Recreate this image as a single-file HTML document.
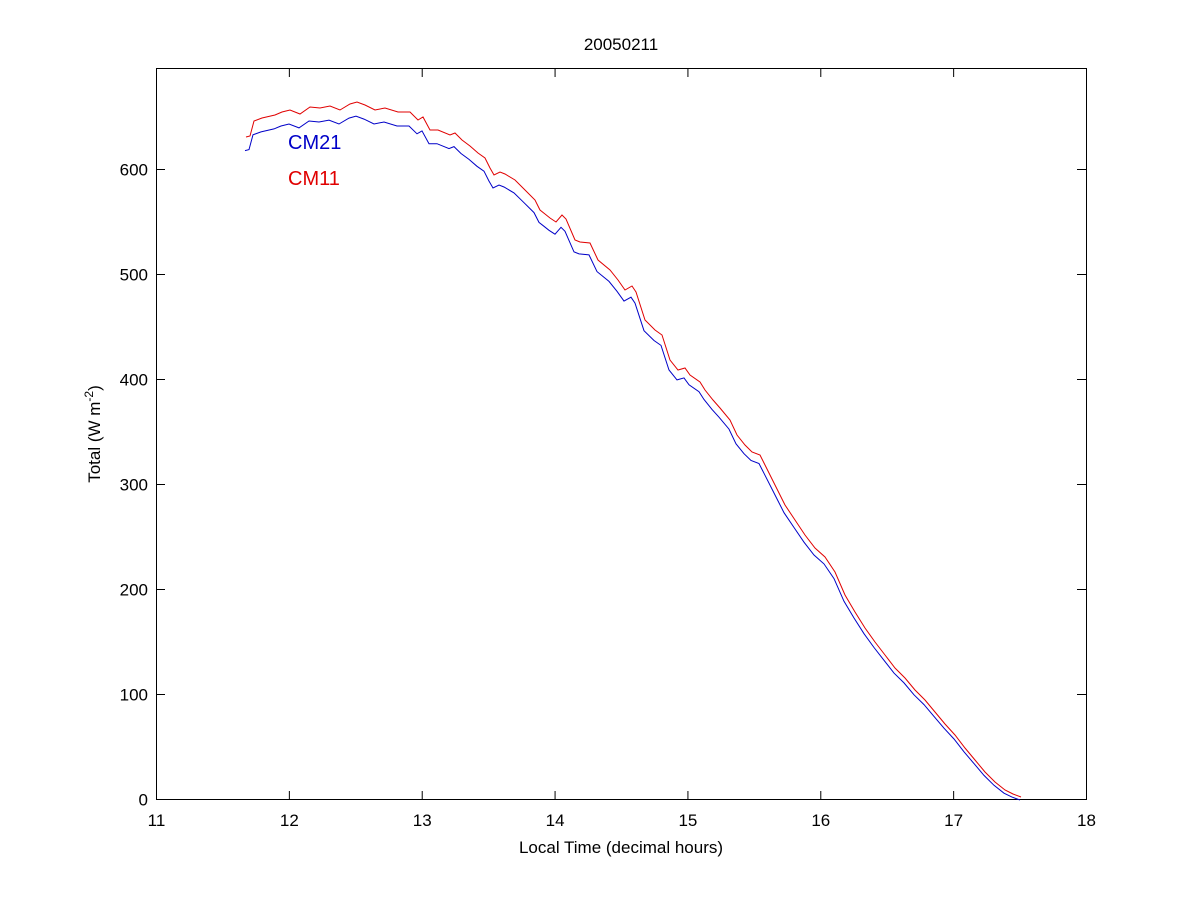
<!DOCTYPE html>
<html><head><style>body{margin:0;background:#fff}svg{display:block}text{font-family:"Liberation Sans",sans-serif;font-size:17px}</style></head>
<body>
<svg id="s" width="1200" height="900" xmlns="http://www.w3.org/2000/svg">
<rect x="0" y="0" width="1200" height="900" fill="#fff"/>
<rect x="156.5" y="68.5" width="930" height="731" fill="none" stroke="#000" stroke-width="1"/>
<g id="ticks" stroke="#000" stroke-width="1"></g>
<g id="labels" fill="#000"></g>
<text x="621" y="50" text-anchor="middle">20050211</text>
<text x="621" y="853" text-anchor="middle">Local Time (decimal hours)</text>
<text transform="translate(100,434) rotate(-90)" text-anchor="middle">Total (W m<tspan dy="-7" font-size="12">-2</tspan><tspan dy="7">)</tspan></text>
<polyline id="red" fill="none" stroke="#e00000" stroke-width="1"/>
<polyline id="blue" fill="none" stroke="#0000c8" stroke-width="1"/>
<text x="288" y="149" fill="#0000c8" style="font-size:20px">CM21</text>
<text x="288" y="185" fill="#e00000" style="font-size:20px">CM11</text>
</svg>
<script>
var t=document.getElementById('ticks'),l=document.getElementById('labels'),ns='http://www.w3.org/2000/svg';
function ln(a,b,c,d){var e=document.createElementNS(ns,'line');e.setAttribute('x1',a);e.setAttribute('y1',b);e.setAttribute('x2',c);e.setAttribute('y2',d);t.appendChild(e);}
function tx(x,y,s,a){var e=document.createElementNS(ns,'text');e.setAttribute('x',x);e.setAttribute('y',y);e.setAttribute('text-anchor',a);e.textContent=s;l.appendChild(e);}
for(var h=11;h<=18;h++){var x=156.5+(h-11)*930/7;ln(x,800,x,791);ln(x,68,x,77);tx(x,826,h,'middle');}
for(var v=0;v<=600;v+=100){var y=799.5-v*1.05;ln(156,y,165,y);ln(1086,y,1077,y);tx(148,y+6,v,'end');}
var r=[[246,137],[250,136],[254,121],[262,118],[275,115],[282,112],[290,110],[300,114],[310,107],[320,108],[330,106],[340,110],[350,104],[357,102],[365,105],[375,110],[385,108],[398,112],[410,112],[418,120],[423,117],[430,130],[438,130],[450,135],[455,133],[462,140],[470,146],[478,153],[485,158],[490,168],[494,175],[500,172],[505,174],[515,180],[525,190],[535,200],[540,210],[545,214],[550,218],[556,222],[562,215],[566,219],[575,240],[580,242],[590,243],[598,260],[610,270],[618,280],[625,290],[632,286],[636,292],[645,320],[655,330],[662,335],[670,360],[678,370],[685,368],[690,375],[700,382],[705,390],[713,400],[720,408],[730,420],[737,435],[745,445],[752,452],[760,455],[765,465],[775,485],[785,505],[795,520],[805,535],[815,548],[825,557],[835,572],[845,595],[855,612],[865,628],[875,642],[885,655],[895,668],[905,678],[915,690],[925,700],[935,712],[945,724],[955,735],[965,748],[975,760],[985,772],[995,782],[1005,790],[1013,794],[1021,797]];
document.getElementById('red').setAttribute('points',r.map(function(p){return p.join(',')}).join(' '));
document.getElementById('blue').setAttribute('points',r.map(function(p){var o=3+11*(800-p[1])/690;return (p[0]-1)+','+Math.min(800,p[1]+o).toFixed(1)}).join(' '));
</script>
</body></html>
